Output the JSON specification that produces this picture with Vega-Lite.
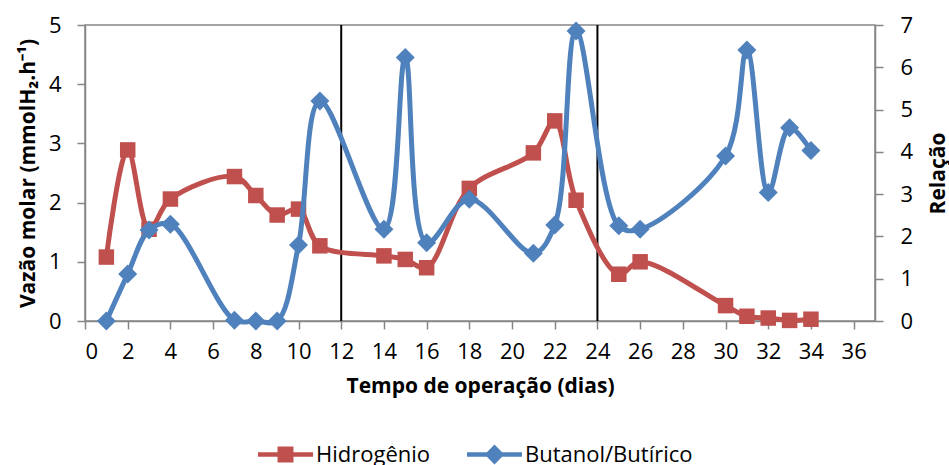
{
  "$schema": "https://vega.github.io/schema/vega-lite/v6.json",
  "width": 790,
  "height": 296,
  "autosize": {"type": "none"},
  "padding": {"left": 85, "top": 25, "right": 74, "bottom": 144},
  "background": "white",
  "config": {
    "font": "Open Sans",
    "view": {"stroke": "#868686", "strokeWidth": 1.5},
    "axis": {
      "grid": false,
      "domainColor": "#868686",
      "domainWidth": 1.5,
      "tickColor": "#868686",
      "tickWidth": 1.5,
      "tickSize": 8,
      "labelFont": "Open Sans",
      "labelFontSize": 22,
      "labelColor": "black",
      "titleFont": "Open Sans",
      "titleFontSize": 21,
      "titleFontWeight": "bold",
      "titleColor": "black"
    }
  },
  "datasets": {
    "h2": [
      {"dia": 1, "v": 1.08}, {"dia": 2, "v": 2.89}, {"dia": 3, "v": 1.55}, {"dia": 4, "v": 2.06},
      {"dia": 7, "v": 2.44}, {"dia": 8, "v": 2.12}, {"dia": 9, "v": 1.79}, {"dia": 10, "v": 1.89},
      {"dia": 11, "v": 1.27}, {"dia": 14, "v": 1.10}, {"dia": 15, "v": 1.04}, {"dia": 16, "v": 0.90},
      {"dia": 18, "v": 2.24}, {"dia": 21, "v": 2.84}, {"dia": 22, "v": 3.38}, {"dia": 23, "v": 2.04},
      {"dia": 25, "v": 0.79}, {"dia": 26, "v": 1.00}, {"dia": 30, "v": 0.26}, {"dia": 31, "v": 0.08},
      {"dia": 32, "v": 0.05}, {"dia": 33, "v": 0.01}, {"dia": 34, "v": 0.03}
    ],
    "bb": [
      {"dia": 1, "r": 0}, {"dia": 2, "r": 1.11}, {"dia": 3, "r": 2.15}, {"dia": 4, "r": 2.29},
      {"dia": 7, "r": 0.02}, {"dia": 8, "r": 0}, {"dia": 9, "r": 0}, {"dia": 10, "r": 1.80},
      {"dia": 11, "r": 5.20}, {"dia": 14, "r": 2.17}, {"dia": 15, "r": 6.23}, {"dia": 16, "r": 1.85},
      {"dia": 18, "r": 2.88}, {"dia": 21, "r": 1.60}, {"dia": 22, "r": 2.27}, {"dia": 23, "r": 6.86},
      {"dia": 25, "r": 2.25}, {"dia": 26, "r": 2.17}, {"dia": 30, "r": 3.90}, {"dia": 31, "r": 6.41},
      {"dia": 32, "r": 3.04}, {"dia": 33, "r": 4.57}, {"dia": 34, "r": 4.03}
    ],
    "div": [{"dia": 12}, {"dia": 24}]
  },
  "encoding": {
    "x": {
      "field": "dia",
      "type": "quantitative",
      "scale": {"domain": [0, 37], "nice": false},
      "axis": {
        "title": "Tempo de operação (dias)",
        "values": [0, 2, 4, 6, 8, 10, 12, 14, 16, 18, 20, 22, 24, 26, 28, 30, 32, 34, 36],
        "format": "d",
        "labelPadding": 12,
        "titlePadding": 13
      }
    }
  },
  "layer": [
    {
      "layer": [
        {
          "data": {"name": "div"},
          "mark": {"type": "rule", "color": "black", "strokeWidth": 2},
          "encoding": {}
        },
        {
          "data": {"name": "h2"},
          "mark": {"type": "line", "interpolate": "catmull-rom", "strokeWidth": 5},
          "encoding": {
            "y": {
              "field": "v",
              "type": "quantitative",
              "scale": {"domain": [0, 5], "nice": false},
              "axis": {
                "orient": "left",
                "title": "Vazão molar (mmolH₂.h⁻¹)",
                "values": [0, 1, 2, 3, 4, 5],
                "format": "d",
                "labelPadding": 16,
                "titlePadding": 10
              }
            },
            "color": {
              "datum": "Hidrogênio",
              "type": "nominal",
              "scale": {"domain": ["Hidrogênio", "Butanol/Butírico"], "range": ["#C0504D", "#4F81BD"]},
              "legend": {
                "orient": "none",
                "legendX": 173,
                "legendY": 402,
                "direction": "horizontal",
                "title": null,
                "symbolSize": 3025,
                "symbolStrokeWidth": 0,
                "labelFont": "Open Sans",
                "labelFontSize": 22,
                "labelColor": "black",
                "labelOffset": 3,
                "labelLimit": 0,
                "columnPadding": 36,
                "gridAlign": "none",
                "encode": {
                  "symbols": {
                    "update": {
                      "shape": {"signal": "datum.value === 'Hidrogênio' ? 'M-1,-0.085H1V0.085H-1Z M-0.29,-0.29H0.29V0.29H-0.29Z' : 'M-1,-0.085H1V0.085H-1Z M0,-0.36L0.36,0L0,0.36L-0.36,0Z'"},
                      "fill": {"signal": "datum.value === 'Hidrogênio' ? '#C0504D' : '#4F81BD'"},
                      "strokeWidth": {"value": 0},
                      "opacity": {"value": 1}
                    }
                  }
                }
              }
            }
          }
        },
        {
          "data": {"name": "h2"},
          "mark": {"type": "point", "shape": "square", "filled": true, "size": 240, "opacity": 1, "color": "#C0504D"},
          "encoding": {
            "y": {"field": "v", "type": "quantitative"}
          }
        }
      ]
    },
    {
      "layer": [
        {
          "data": {"name": "bb"},
          "mark": {"type": "line", "interpolate": "catmull-rom", "strokeWidth": 5},
          "encoding": {
            "y": {
              "field": "r",
              "type": "quantitative",
              "scale": {"domain": [0, 7], "nice": false},
              "axis": {
                "orient": "right",
                "title": "Relação",
                "titleAngle": 270,
                "titleX": 69,
                "titleY": 148,
                "titleAlign": "center",
                "titleBaseline": "alphabetic",
                "values": [0, 1, 2, 3, 4, 5, 6, 7],
                "format": "d",
                "labelPadding": 17
              }
            },
            "color": {"datum": "Butanol/Butírico", "type": "nominal"}
          }
        },
        {
          "data": {"name": "bb"},
          "mark": {"type": "point", "shape": "diamond", "filled": true, "size": 361, "opacity": 1, "color": "#4F81BD"},
          "encoding": {
            "y": {"field": "r", "type": "quantitative"}
          }
        }
      ]
    }
  ],
  "resolve": {"scale": {"y": "independent"}}
}
